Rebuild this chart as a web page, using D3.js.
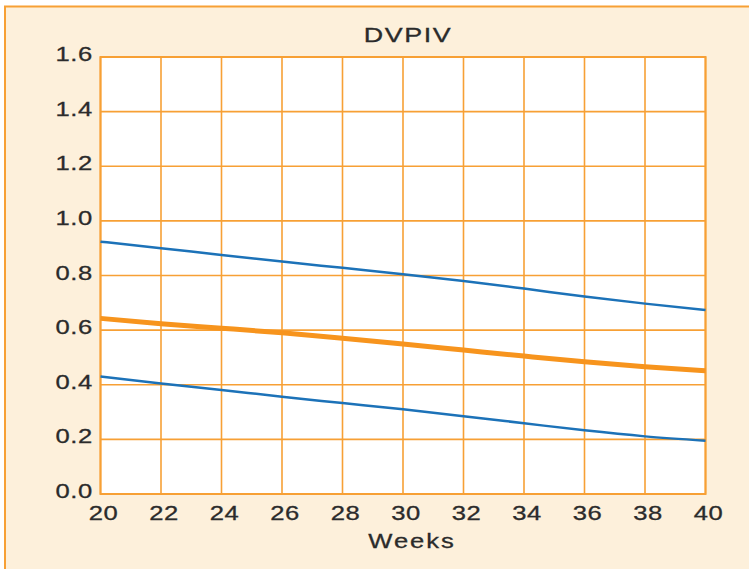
<!DOCTYPE html>
<html>
<head>
<meta charset="utf-8">
<script src="https://cdn.jsdelivr.net/npm/d3@7"></script>
<style>
  body { margin: 0; background: #fff; }
  text { font-family: "Liberation Sans", Arial, sans-serif; fill: #2b2b2b; }
</style>
</head>
<body>
<div id="chart"></div>
<script>
// DVPIV vs gestational weeks

const weeks = [20, 22, 24, 26, 28, 30, 32, 34, 36, 38, 40];
const upper = [0.924, 0.900, 0.875, 0.851, 0.828, 0.805, 0.780, 0.752, 0.723, 0.697, 0.674];
const mean  = [0.643, 0.623, 0.607, 0.590, 0.570, 0.549, 0.527, 0.505, 0.484, 0.466, 0.451];
const lower = [0.430, 0.405, 0.381, 0.356, 0.333, 0.310, 0.285, 0.259, 0.233, 0.211, 0.195];
const yTicks = [0.0, 0.2, 0.4, 0.6, 0.8, 1.0, 1.2, 1.4, 1.6];
const xTicks = [20, 22, 24, 26, 28, 30, 32, 34, 36, 38, 40];
const title = "DVPIV";
const xTitle = "Weeks";

const width = 749, height = 569;
const margin = {left: 100.5, right: 43.5, top: 57, bottom: 75};
const orange = "#F7A035", blue = "#1C72B8", bg = "#FDF0DB";

const svg = d3.select("#chart")
  .append("svg")
  .attr("width", width)
  .attr("height", height);

// outer panel, runs off the right and bottom of the picture
svg.append("rect")
  .attr("x", 5).attr("y", 6.5)
  .attr("width", width + 10).attr("height", height + 10)
  .attr("fill", bg)
  .attr("stroke", orange)
  .attr("stroke-width", 2);

const x = d3.scaleLinear().domain([20, 40]).range([margin.left, width - margin.right]);
const y = d3.scaleLinear().domain([0, 1.6]).range([height - margin.bottom, margin.top]);

// plot area
svg.append("rect")
  .attr("x", x(20)).attr("y", y(1.6))
  .attr("width", x(40) - x(20)).attr("height", y(0) - y(1.6))
  .attr("fill", "#fff");

// grid
svg.append("g").selectAll("line")
  .data(xTicks)
  .join("line")
  .attr("x1", d => x(d)).attr("x2", d => x(d))
  .attr("y1", y(0)).attr("y2", y(1.6))
  .attr("stroke", orange).attr("stroke-width", 1.6);

svg.append("g").selectAll("line")
  .data(yTicks)
  .join("line")
  .attr("x1", x(20)).attr("x2", x(40))
  .attr("y1", d => y(d)).attr("y2", d => y(d))
  .attr("stroke", orange).attr("stroke-width", 1.6);

svg.append("rect")
  .attr("x", x(20)).attr("y", y(1.6))
  .attr("width", x(40) - x(20)).attr("height", y(0) - y(1.6))
  .attr("fill", "none")
  .attr("stroke", orange).attr("stroke-width", 2);

// lines
const line = d3.line()
  .x((d, i) => x(weeks[i]))
  .y(d => y(d))
  .curve(d3.curveMonotoneX);

svg.append("path").datum(upper)
  .attr("d", line).attr("fill", "none")
  .attr("stroke", blue).attr("stroke-width", 2.5);
svg.append("path").datum(lower)
  .attr("d", line).attr("fill", "none")
  .attr("stroke", blue).attr("stroke-width", 2.5);
svg.append("path").datum(mean)
  .attr("d", line).attr("fill", "none")
  .attr("stroke", "#F7941D").attr("stroke-width", 5);

// text is wide in the original, so stretch it sideways
function addText(px, py, str, size, anchor, spacing) {
  svg.append("g")
    .attr("transform", "translate(" + px + "," + py + ") scale(1.28,1)")
    .append("text")
    .attr("text-anchor", anchor)
    .attr("font-size", size)
    .style("letter-spacing", spacing + "px")
    .style("stroke", "#2b2b2b")
    .style("stroke-width", 0.3)
    .text(str);
}

yTicks.forEach(d => addText(93, y(d) + 4, d.toFixed(1), 20, "end", 0.5));
xTicks.forEach(d => addText(x(d) + 3, 520, d, 20, "middle", 0.5));
addText(412, 548, xTitle, 20, "middle", 1.5);
addText(408, 42, title, 21, "middle", 1.2);
</script>
</body>
</html>
